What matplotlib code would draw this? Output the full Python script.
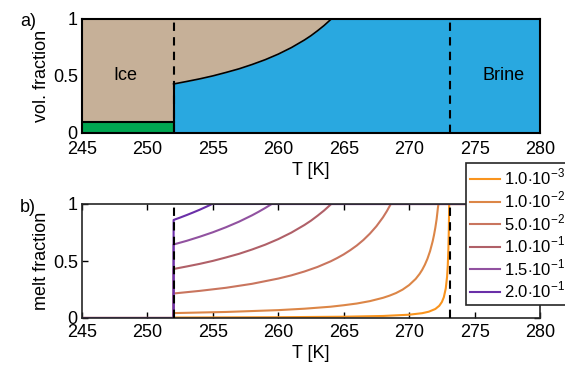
import matplotlib.pyplot as plt

plt.rcParams['font.family'] = ['Liberation Sans', 'DejaVu Sans']
plt.rcParams['font.size'] = 13
plt.rcParams['mathtext.fontset'] = 'custom'
plt.rcParams['mathtext.rm'] = 'Liberation Sans'

# eutectic and melting temperatures [K]
T_eut = 252.0
T_melt = 273.15

# panel a: brine volume fraction above the eutectic
T_brine = [252.0, 253, 254, 255, 256, 257, 258, 259, 260, 261, 262, 262.5, 263, 263.5, 264.05, 280]
phi_brine = [0.430, 0.452, 0.475, 0.501, 0.531, 0.563, 0.601, 0.643, 0.692, 0.749, 0.816,
             0.854, 0.897, 0.943, 1.0, 1.0]
salt_frac = 0.1

# panel b: melt fraction for several bulk salinities
labels = ['1.0$\\cdot$10$^{-3}$', '1.0$\\cdot$10$^{-2}$', '5.0$\\cdot$10$^{-2}$',
          '1.0$\\cdot$10$^{-1}$', '1.5$\\cdot$10$^{-1}$', '2.0$\\cdot$10$^{-1}$']
colors = ['#F9941E', '#DC8647', '#C9755E', '#B06068', '#9152A0', '#6A2FA8']

T_curves = [
    [245, 252, 252, 260, 265, 268, 270, 271, 271.5, 272, 272.3, 272.5, 272.65, 272.8, 272.9,
     272.95, 273.0, 273.03, 273.05, 273.06, 280],
    [245, 252, 252, 256, 260, 262, 264, 265, 266, 267, 268, 268.5, 269, 269.5, 270, 270.5,
     270.8, 271, 271.2, 271.4, 271.6, 271.8, 271.9, 272, 272.1, 272.2, 272.24, 280],
    [245, 252, 252, 254, 256, 258, 260, 261, 262, 263, 264, 264.5, 265, 265.5, 266, 266.5,
     267, 267.5, 268, 268.3, 268.6, 280],
    [245, 252, 252, 253, 254, 255, 256, 257, 258, 259, 260, 261, 262, 262.5, 263, 263.5,
     264.05, 280],
    [245, 252, 252, 253, 254, 255, 256, 257, 258, 258.5, 259, 259.5, 280],
    [245, 252, 252, 252.5, 253, 253.5, 254, 254.5, 254.95, 280],
]
phi_curves = [
    [0, 0, 0.0043, 0.0069, 0.0112, 0.0177, 0.0289, 0.0423, 0.0552, 0.079, 0.107, 0.14, 0.182,
     0.26, 0.364, 0.455, 0.607, 0.758, 0.91, 1.0, 1.0],
    [0, 0, 0.043, 0.053, 0.069, 0.0816, 0.099, 0.112, 0.127, 0.148, 0.177, 0.196, 0.219, 0.249,
     0.289, 0.343, 0.387, 0.423, 0.467, 0.520, 0.587, 0.674, 0.728, 0.791, 0.867, 0.968, 1.0, 1.0],
    [0, 0, 0.215, 0.238, 0.265, 0.300, 0.346, 0.374, 0.408, 0.448, 0.497, 0.526, 0.558, 0.595,
     0.636, 0.684, 0.740, 0.805, 0.883, 0.938, 1.0, 1.0],
    [0, 0, 0.430, 0.452, 0.475, 0.501, 0.531, 0.563, 0.601, 0.643, 0.692, 0.749, 0.816, 0.854,
     0.897, 0.943, 1.0, 1.0],
    [0, 0, 0.645, 0.677, 0.713, 0.752, 0.796, 0.845, 0.901, 0.932, 0.965, 1.0, 1.0],
    [0, 0, 0.860, 0.881, 0.903, 0.926, 0.950, 0.976, 1.0, 1.0],
]

xticks = [245, 250, 255, 260, 265, 270, 275, 280]

fig = plt.figure(figsize=(5.65, 3.65), dpi=100)
ax1 = fig.add_axes([82/565, 1-133/365, 458/565, 114/365])
ax2 = fig.add_axes([82/565, 1-318/365, 458/565, 114/365])

# --- panel a ---
ice = '#C6B098'
blue = '#29A8E0'
green = '#00A651'
ax1.axhspan(0, 1, color=ice, zorder=0)
ax1.fill_between([245, T_eut], 0, salt_frac, color=green, zorder=1)
ax1.plot([245, T_eut], [salt_frac, salt_frac], color='k', lw=1.5, zorder=2)
ax1.fill_between(T_brine, 0, phi_brine, color=blue, zorder=1, lw=0)
ax1.plot(T_brine[:-1], phi_brine[:-1], color='k', lw=1.2, zorder=2)
ax1.plot([T_eut, T_eut], [0, phi_brine[0]], color='k', lw=1.5, zorder=2)
ax1.axvline(T_eut, color='k', ls=(0, (4, 3)), lw=1.5, zorder=3)
ax1.axvline(T_melt, color='k', ls=(0, (4, 3)), lw=1.5, zorder=3)
ax1.text(248.3, 0.5, 'Ice', ha='center', va='center')
ax1.text(277.2, 0.5, 'Brine', ha='center', va='center')
ax1.set_xlim(245, 280)
ax1.set_ylim(0, 1)
ax1.set_xticks(xticks)
ax1.set_yticks([0, 0.5, 1])
ax1.set_yticklabels(['0', '0.5', '1'])
ax1.tick_params(axis='x', direction='in', length=0, pad=6)
ax1.tick_params(axis='y', direction='in', length=0, pad=3)
ax1.set_xlabel('T [K]', labelpad=3)
ax1.set_ylabel('vol. fraction', labelpad=2)
for s in ax1.spines.values():
    s.set_linewidth(1.5)
    s.set_zorder(4)

# --- panel b ---
for T, phi, c, lab in zip(T_curves, phi_curves, colors, labels):
    ax2.plot(T, phi, color=c, lw=1.5, label=lab)
ax2.axvline(T_eut, color='k', ls=(0, (4, 3)), lw=1.5, zorder=3)
ax2.axvline(T_melt, color='k', ls=(0, (4, 3)), lw=1.5, zorder=3)
ax2.set_xlim(245, 280)
ax2.set_ylim(0, 1)
ax2.set_xticks(xticks)
ax2.set_yticks([0, 0.5, 1])
ax2.set_yticklabels(['0', '0.5', '1'])
ax2.tick_params(axis='x', direction='in', top=True, length=4, width=1, pad=4)
ax2.tick_params(axis='y', direction='in', right=True, length=4, width=1, pad=3)
ax2.set_xlabel('T [K]', labelpad=3)
ax2.set_ylabel('melt fraction', labelpad=2)
for s in ax2.spines.values():
    s.set_linewidth(1.2)
    s.set_color('#262626')

leg = ax2.legend(loc='upper left', bbox_to_anchor=(466/565, 1-163/365),
                 bbox_transform=fig.transFigure, fontsize=12, frameon=True,
                 fancybox=False, edgecolor='#262626', framealpha=1,
                 handlelength=1.8, handletextpad=0.2, labelspacing=0.12,
                 borderpad=0.25, borderaxespad=0)
leg.get_frame().set_linewidth(1.2)

fig.text(20/565, 1-22/365, 'a)', ha='left', va='center')
fig.text(20/565, 1-207/365, 'b)', ha='left', va='center')

fig.savefig('out.png', dpi=100)
